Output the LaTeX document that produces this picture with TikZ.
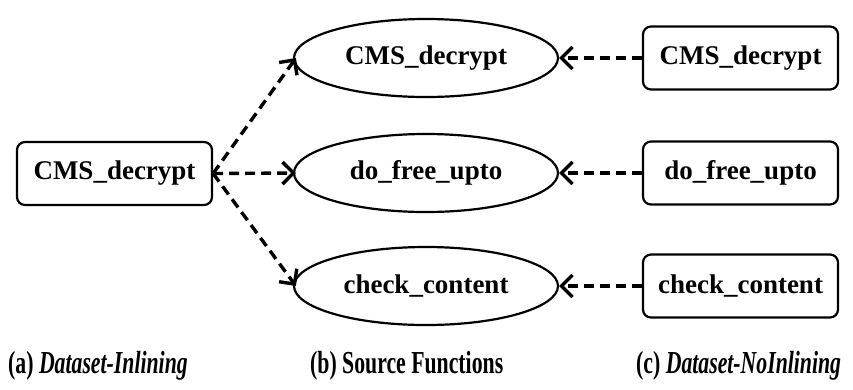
\documentclass[tikz,border=0pt]{standalone}
\usepackage{fontspec}
\setmainfont{Liberation Serif}
\usepackage{graphicx}
\usetikzlibrary{shapes.geometric,arrows.meta}

\tikzset{
  fbox/.style={draw, line width=2.2pt, rounded corners=8pt, minimum width=195pt, minimum height=63pt, inner sep=0pt, font=\fontsize{27}{27}\selectfont\bfseries},
  fell/.style={draw, ellipse, line width=2.2pt, minimum width=264pt, minimum height=78pt, inner sep=0pt, font=\fontsize{27}{27}\selectfont\bfseries},
  call/.style={line width=3.4pt, dash pattern=on 10pt off 6pt, -{Straight Barb[length=11pt,width=22pt,line width=3.4pt]}},
  capt/.style={anchor=west, inner sep=0pt, font=\fontsize{32}{32}\selectfont\bfseries}
}

\begin{document}
\begin{tikzpicture}[x=1pt,y=-1pt]
  \useasboundingbox (0,0) rectangle (853,389);

  \node[fbox] (inl) at (114.5,173.5) {CMS\_decrypt};

  \foreach \y/\n/\name in {58/1/CMS\_decrypt, 173/2/do\_free\_upto, 286/3/check\_content} {
    \node[fell] (src\n) at (426,\y) {\name};
    \node[fbox] (noi\n) at (740.5,\y) {\name};
    \draw[call] (inl.east) -- ([xshift=3pt]src\n.west);
    \draw[call] (noi\n.west) -- (src\n.east);
  };

  \node[capt] (ca) at (8,366) {\scalebox{0.68}[1]{(a) \textit{Dataset-Inlining}}};
  \node[capt] (cb) at (310,366) {\scalebox{0.68}[1]{(b) Source Functions}};
  \node[capt] (cc) at (636,366) {\scalebox{0.68}[1]{(c) \textit{Dataset-NoInlining}}};
\end{tikzpicture}
\end{document}
